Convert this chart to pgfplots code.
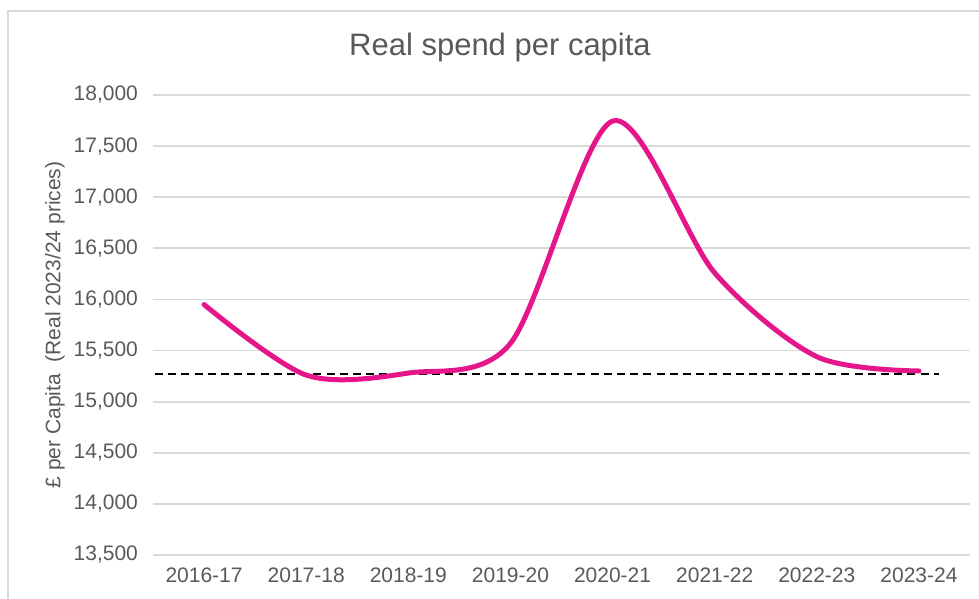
\documentclass[border=0pt]{standalone}
\usepackage{fontspec}
\setmainfont{Liberation Sans}
\usepackage{pgfplots}
\pgfplotsset{compat=1.18}
\definecolor{txtgray}{HTML}{595959}
\definecolor{gridgray}{HTML}{D9D9D9}
\definecolor{magentaline}{HTML}{E5168A}
\begin{document}
\begin{tikzpicture}[x=1pt,y=1pt]
% 1px of the reference = 0.5pt
\useasboundingbox (0,0) rectangle (489.5,299.5);
\draw[gridgray, line width=1pt] (4,0) -- (4,294) -- (489.5,294);
\node[txtgray, font=\fontsize{15.5}{18}\selectfont] at (250,276) {Real spend per capita};
\node[txtgray, rotate=90, font=\fontsize{10.5}{12}\selectfont] at (27.5,137) {£ per Capita\ \ (Real 2023/24 prices)};
\begin{axis}[
    at={(76.5pt,22pt)}, anchor=south west,
    scale only axis,
    width=408.5pt, height=230pt,
    xmin=-0.5, xmax=7.5,
    ymin=13500, ymax=18000,
    ytick={13500,14000,...,18000},
    xtick={0,...,7},
    xticklabels={2016-17,2017-18,2018-19,2019-20,2020-21,2021-22,2022-23,2023-24},
    scaled y ticks=false,
    /pgf/number format/.cd, 1000 sep={,}, assume math mode=true,
    /pgfplots/.cd,
    axis line style={draw=none},
    major tick length=0pt,
    ymajorgrids,
    grid style={gridgray, line width=0.9pt},
    tick label style={txtgray, font=\fontsize{10.5}{12}\selectfont},
    yticklabel style={xshift=-4pt},
    xticklabel style={yshift=-3pt},
    clip=false,
]
\draw[gridgray, line width=1pt] (axis cs:-0.5,13500) -- (axis cs:7.5,13500);
\addplot[black, line width=1pt, dash pattern=on 4pt off 2.6pt] coordinates {
    (-0.48,15275) (7.2,15275)
};
\addplot[magentaline, line width=2.5pt, smooth, line cap=round] coordinates {
    (0,15950)
    (1,15260)
    (2,15280)
    (3,15570)
    (4,17745)
    (5,16260)
    (6,15440)
    (7,15300)
};
\end{axis}
\end{tikzpicture}
\end{document}
